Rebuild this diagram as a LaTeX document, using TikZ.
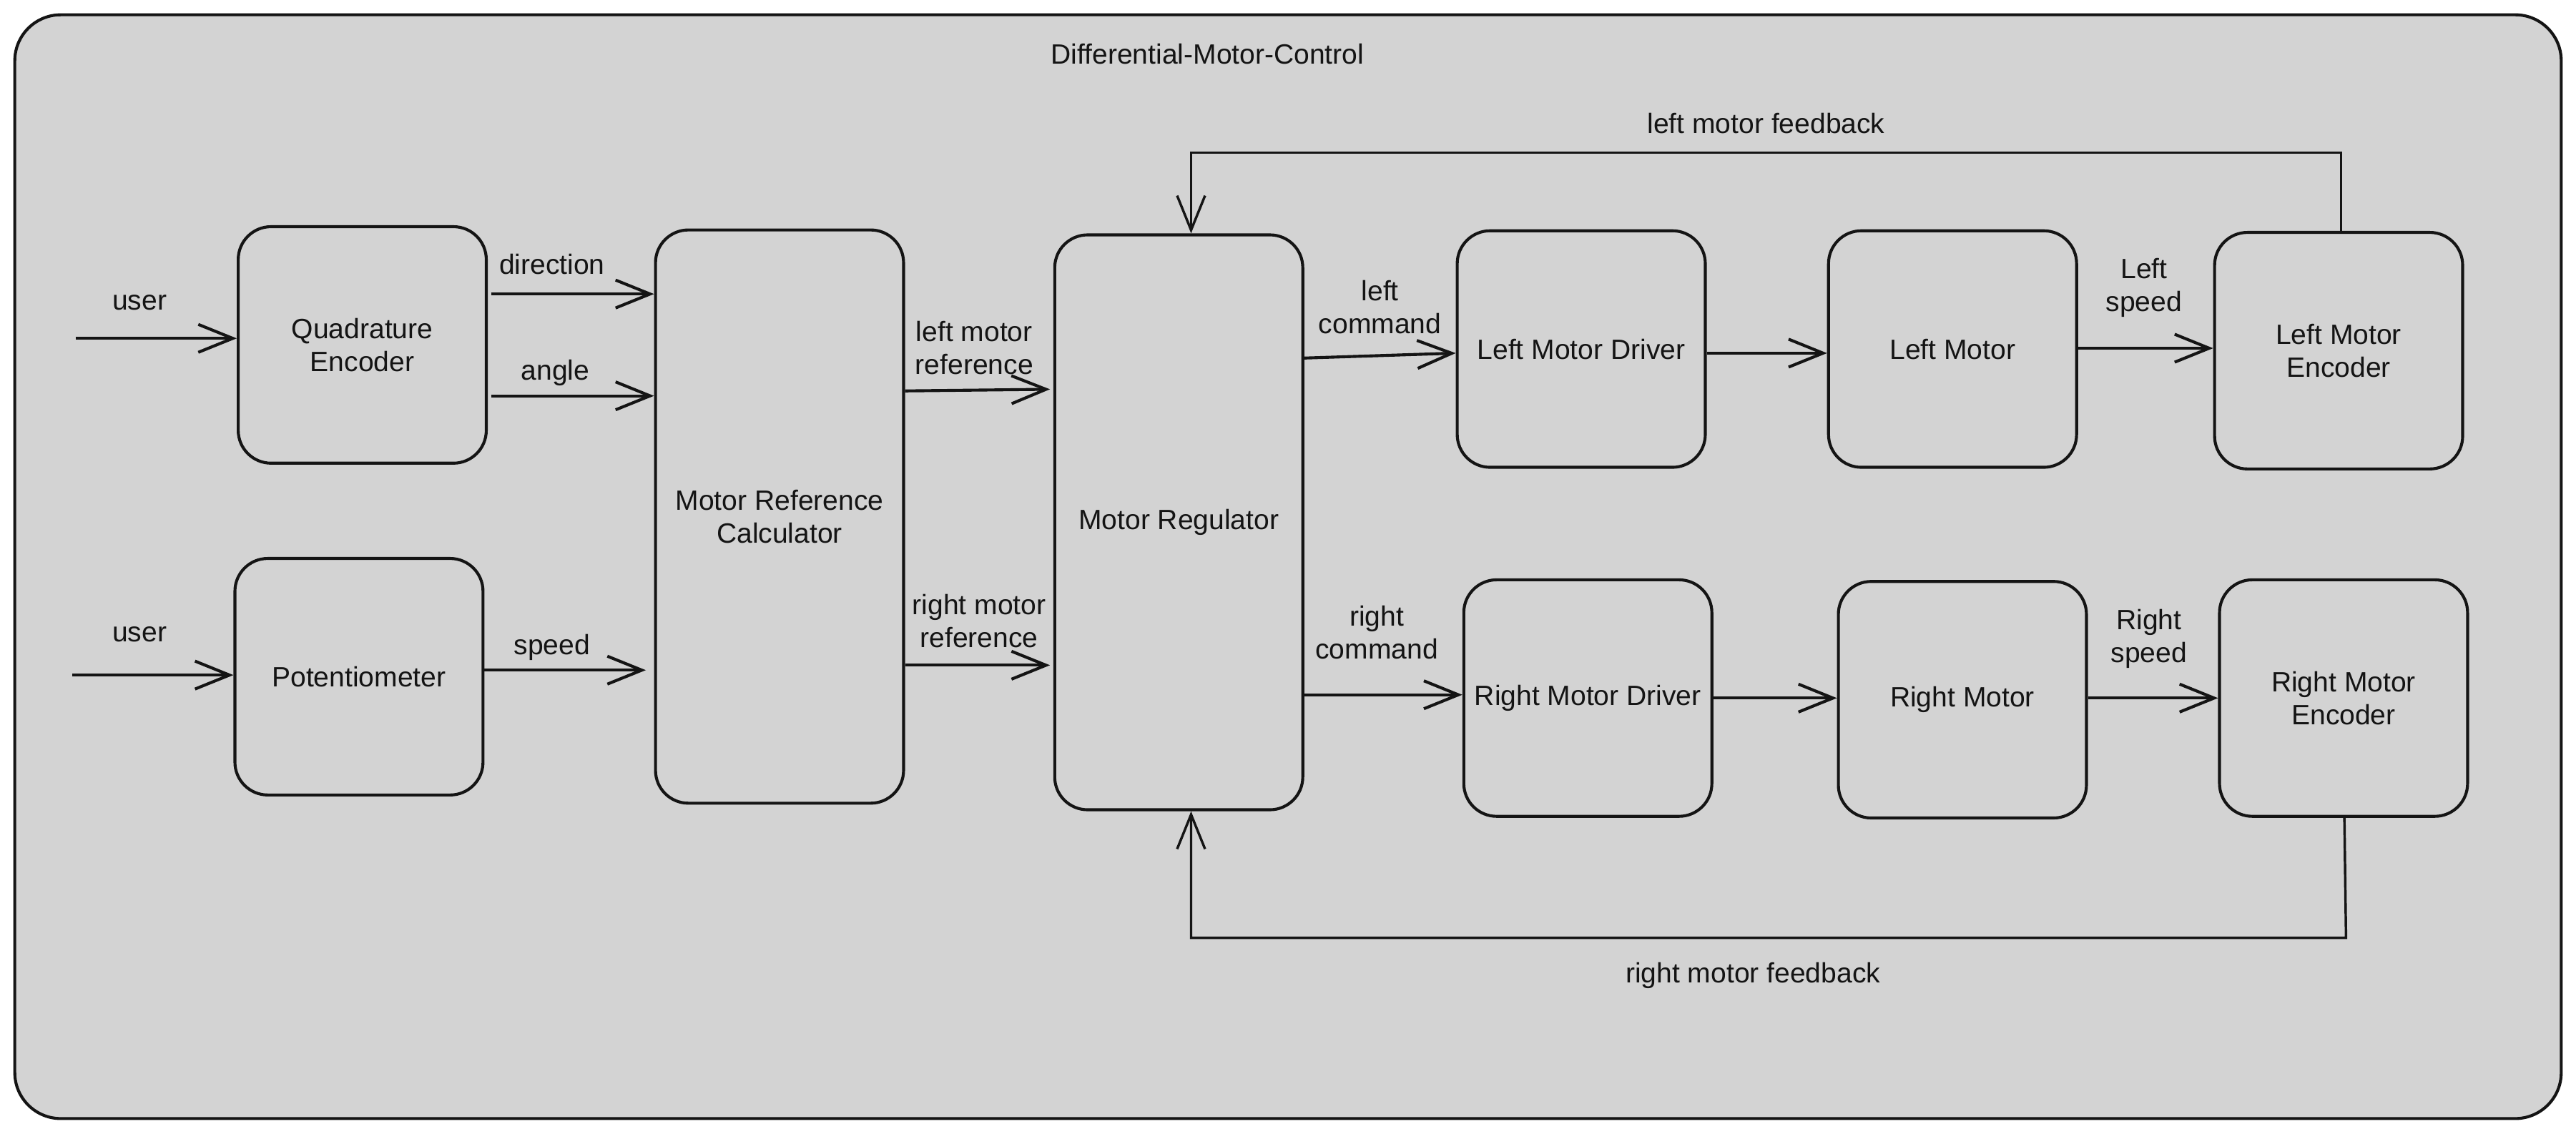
\documentclass[tikz,border=0pt]{standalone}
\usepackage{fontspec}
\setmainfont{Liberation Sans}
\usetikzlibrary{arrows.meta}
\definecolor{bg}{RGB}{211,211,211}
\definecolor{linec}{RGB}{20,20,20}
\newcommand\dfont{\fontsize{17}{20}\selectfont}
\begin{document}
\begin{tikzpicture}[x=1pt,y=-1pt,
  frame/.style={draw=linec, fill=bg, line width=1.8pt, rounded corners=28pt, minimum width=1550pt, minimum height=672pt, inner sep=0pt},
  box/.style={draw=linec, fill=bg, line width=1.8pt, rounded corners=20pt, minimum width=151pt, minimum height=144pt, inner sep=2pt, align=center, font=\dfont, text=linec},
  lab/.style={align=center, font=\dfont, inner sep=0pt, text=linec},
  arr/.style={line width=1.8pt, draw=linec, -{Straight Barb[length=21pt,width=17pt]}},
  fb/.style={line width=1.5pt, draw=linec}]
\useasboundingbox (0,0) rectangle (1568,690);
\fill[white] (0,0) rectangle (1568,690);
\node[frame] (frm) at (784,345) {};
\node[lab] (title) at (735,33) {Differential-Motor-Control};

% boxes
\node[box] (QE)  at (220.5,210) {Quadrature\\Encoder};
\node[box] (Pot) at (218.5,412) {Potentiometer};
\node[box, minimum height=349pt] (MRC) at (474.5,314.5) {Motor Reference\\Calculator};
\node[box, minimum height=350pt] (MR)  at (717.5,318) {Motor Regulator};
\node[box] (LMD) at (962.5,212.5) {Left Motor Driver};
\node[box] (LM)  at (1188.5,212.5) {Left Motor};
\node[box] (LME) at (1423.5,213.5) {Left Motor\\Encoder};
\node[box] (RMD) at (966.5,425) {Right Motor Driver};
\node[box] (RM)  at (1194.5,426) {Right Motor};
\node[box] (RME) at (1426.5,425) {Right Motor\\Encoder};

% free ends
\coordinate (u1) at (46,206);
\coordinate (u2) at (44,411);

% arrows
\draw[arr] (u1) -- (QE.west |- u1);
\draw[arr] (u2) -- (Pot.west |- u2);
\draw[arr] ([xshift=2pt]QE.east |- 0,179) -- (MRC.west |- 0,179);
\draw[arr] ([xshift=2pt]QE.east |- 0,241) -- (MRC.west |- 0,241);
\draw[arr] (Pot.east |- 0,408) -- ([xshift=-5pt]MRC.west |- 0,408);
\draw[arr] (MRC.east |- 0,238) -- ([xshift=-2pt]MR.west |- 0,237);
\draw[arr] (MRC.east |- 0,405) -- ([xshift=-2pt]MR.west |- 0,405);
\draw[arr] (MR.east |- 0,218) -- (LMD.west |- 0,215);
\draw[arr] (LMD.east |- 0,215) -- (LM.west |- 0,215);
\draw[arr] (LM.east |- 0,212) -- (LME.west |- 0,212);
\draw[arr] (MR.east |- 0,423) -- (RMD.west |- 0,423);
\draw[arr] (RMD.east |- 0,425) -- (RM.west |- 0,425);
\draw[arr] (RM.east |- 0,425) -- (RME.west |- 0,425);

% feedback loops
\draw[fb, -{Straight Barb[length=21pt,width=17pt]}] ([xshift=1.5pt]LME.north) -- ([xshift=1.5pt]LME.north |- 0,93) -| ([xshift=7.5pt]MR.north);
\draw[fb, -{Straight Barb[length=21pt,width=17pt]}] ([xshift=0.5pt]RME.south) -- ([xshift=1.5pt]RME.south |- 0,571) -| ([xshift=7.5pt]MR.south);

% labels
\node[lab] (l1) at (85,184) {user};
\node[lab] (l2) at (85,386) {user};
\node[lab] (l3) at (336,161) {direction};
\node[lab] (l4) at (338,227) {angle};
\node[lab] (l5) at (336,394) {speed};
\node[lab] (l6) at (593,212) {left motor\\reference};
\node[lab] (l7) at (596,378) {right motor\\reference};
\node[lab] (l8) at (840,187) {left\\command};
\node[lab] (l9) at (1305,175) {Left\\speed};
\node[lab] (l10) at (838,385) {right\\command};
\node[lab] (l11) at (1308,389) {Right\\speed};
\node[lab] (l12) at (1075,75) {left motor feedback};
\node[lab] (l13) at (1067,594) {right motor feedback};
\end{tikzpicture}
\end{document}
